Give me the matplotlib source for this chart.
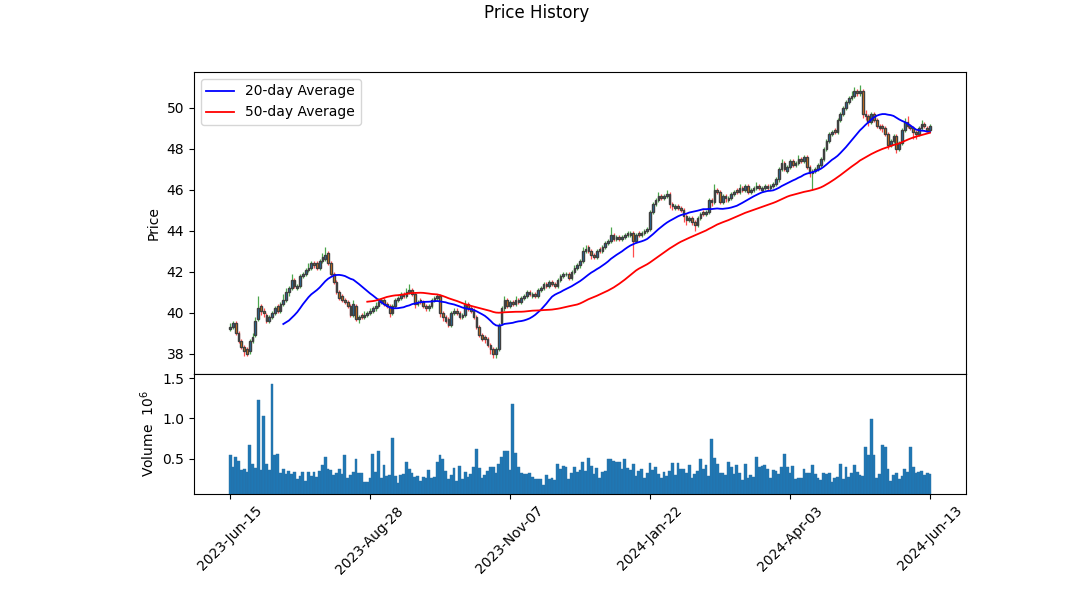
import numpy as np
import pandas as pd
import matplotlib
matplotlib.use('Agg')
import matplotlib.pyplot as plt

# daily OHLC, one value per trading day
opens = [
    39.2, 39.3, 39.5, 39.0, 38.6, 38.3, 38.2, 38.1, 38.6, 38.9,
    39.7, 40.3, 40.1, 39.9, 39.6, 39.8, 40.0, 40.3, 40.1, 40.4,
    40.6, 41.0, 41.2, 41.6, 41.2, 41.3, 41.8, 41.9, 42.1, 42.2,
    42.4, 42.4, 42.2, 42.5, 42.6, 42.9, 42.4, 41.9, 41.5, 41.0,
    40.8, 40.6, 40.5, 40.3, 39.9, 40.3, 39.7, 39.9, 39.8, 39.9,
    40.0, 40.1, 40.2, 40.3, 40.5, 40.6, 40.4, 40.3, 40.0, 40.3,
    40.6, 40.7, 40.9, 40.8, 41.0, 41.1, 40.9, 40.4, 40.6, 40.5,
    40.3, 40.2, 40.3, 40.6, 40.7, 40.8, 40.0, 39.8, 39.7, 39.4,
    40.0, 40.1, 40.0, 39.8, 39.9, 40.4, 40.2, 40.1, 39.8, 39.3,
    38.9, 38.8, 38.7, 38.4, 38.2, 38.0, 38.2, 39.5, 40.2, 40.6,
    40.3, 40.5, 40.4, 40.6, 40.5, 40.7, 40.8, 41.0, 40.8, 40.9,
    40.8, 41.1, 41.2, 41.4, 41.3, 41.5, 41.4, 41.3, 41.6, 41.8,
    41.9, 41.9, 41.7, 42.0, 42.2, 42.3, 42.5, 43.0, 43.2, 43.0,
    42.8, 42.7, 43.1, 43.0, 43.2, 43.4, 43.5, 43.8, 43.6, 43.7,
    43.6, 43.7, 43.8, 43.8, 43.9, 43.5, 43.9, 43.8, 43.9, 44.0,
    44.1, 44.9, 45.3, 45.5, 45.7, 45.6, 45.7, 45.8, 45.3, 45.1,
    45.2, 45.1, 45.0, 44.7, 44.5, 44.6, 44.4, 44.3, 44.6, 44.9,
    44.8, 44.9, 45.5, 45.4, 46.0, 45.9, 45.4, 45.7, 45.5, 45.6,
    45.8, 46.0, 45.9, 46.1, 46.0, 46.2, 45.9, 46.0, 46.1, 46.2,
    46.0, 46.1, 46.2, 46.1, 46.2, 46.3, 46.5, 47.0, 47.3, 46.9,
    47.1, 47.4, 47.2, 47.3, 47.5, 47.4, 47.6, 47.1, 46.8, 46.9,
    47.0, 47.2, 47.5, 48.0, 48.4, 48.7, 48.9, 48.8, 49.4, 49.7,
    50.0, 50.3, 50.5, 50.6, 50.8, 50.7, 50.8, 49.7, 49.6, 49.3,
    49.7, 49.4, 49.1, 49.1, 49.0, 48.7, 48.2, 48.4, 48.6, 48.0,
    48.3, 48.9, 49.3, 49.1, 49.0, 48.8, 48.7, 49.0, 49.2, 49.0,
    48.9]

closes = [
    39.3, 39.5, 39.0, 38.6, 38.3, 38.1, 38.0, 38.6, 38.8, 39.6,
    40.2, 40.1, 40.0, 39.6, 39.8, 40.0, 40.2, 40.1, 40.4, 40.6,
    41.0, 41.2, 41.6, 41.3, 41.3, 41.8, 41.9, 42.1, 42.2, 42.4,
    42.3, 42.2, 42.5, 42.7, 42.8, 42.4, 41.9, 41.5, 41.0, 40.7,
    40.6, 40.5, 40.3, 39.9, 40.4, 39.7, 39.8, 39.8, 39.9, 40.0,
    40.1, 40.2, 40.3, 40.5, 40.6, 40.4, 40.3, 40.0, 40.3, 40.6,
    40.7, 40.9, 40.8, 41.0, 41.1, 40.9, 40.4, 40.5, 40.5, 40.3,
    40.2, 40.3, 40.6, 40.7, 40.8, 40.0, 39.8, 39.6, 39.4, 40.0,
    40.1, 40.0, 39.8, 39.9, 40.4, 40.2, 40.1, 39.8, 39.3, 38.9,
    38.7, 38.7, 38.4, 38.2, 38.0, 38.2, 39.4, 40.2, 40.6, 40.3,
    40.5, 40.4, 40.6, 40.5, 40.7, 40.8, 41.0, 40.9, 40.9, 40.8,
    41.1, 41.2, 41.4, 41.3, 41.5, 41.4, 41.3, 41.6, 41.8, 41.9,
    41.9, 41.7, 42.0, 42.2, 42.3, 42.5, 43.0, 43.1, 43.0, 42.8,
    42.7, 43.0, 43.0, 43.2, 43.4, 43.5, 43.8, 43.6, 43.7, 43.6,
    43.7, 43.8, 43.9, 43.9, 43.5, 43.8, 43.8, 43.9, 44.0, 44.1,
    44.9, 45.3, 45.5, 45.7, 45.6, 45.7, 45.8, 45.3, 45.2, 45.2,
    45.1, 45.0, 44.7, 44.5, 44.6, 44.4, 44.3, 44.6, 44.8, 44.8,
    44.9, 45.5, 45.4, 46.0, 45.9, 45.4, 45.7, 45.6, 45.6, 45.8,
    45.9, 45.9, 46.1, 46.0, 46.2, 45.9, 46.0, 46.1, 46.2, 46.1,
    46.1, 46.2, 46.1, 46.2, 46.3, 46.5, 47.0, 47.3, 47.0, 47.1,
    47.4, 47.2, 47.3, 47.5, 47.4, 47.6, 47.1, 46.8, 46.9, 47.0,
    47.2, 47.5, 48.0, 48.4, 48.7, 48.8, 48.8, 49.4, 49.7, 50.0,
    50.3, 50.5, 50.6, 50.8, 50.7, 50.8, 49.7, 49.6, 49.3, 49.7,
    49.4, 49.1, 49.0, 49.0, 48.7, 48.2, 48.4, 48.6, 48.0, 48.3,
    48.9, 49.3, 49.1, 49.0, 48.8, 48.7, 49.0, 49.2, 49.1, 48.9,
    49.1]

highs = [
    39.5, 39.6, 39.6, 39.1, 38.7, 38.4, 38.3, 38.7, 39.0, 39.8,
    40.8, 40.4, 40.2, 40.0, 39.9, 40.1, 40.3, 40.4, 40.5, 40.9,
    41.2, 41.3, 41.9, 41.7, 41.4, 41.9, 42.0, 42.2, 42.4, 42.5,
    42.5, 42.5, 42.6, 42.9, 43.2, 43.0, 42.5, 42.0, 41.6, 41.1,
    40.9, 40.7, 40.6, 40.4, 40.6, 40.4, 39.9, 40.0, 40.1, 40.1,
    40.2, 40.3, 40.5, 40.7, 40.7, 40.7, 40.5, 40.4, 40.4, 40.7,
    40.8, 41.0, 41.0, 41.2, 41.4, 41.2, 41.0, 40.6, 40.7, 40.6,
    40.4, 40.4, 40.7, 40.8, 40.9, 40.9, 40.1, 39.9, 39.8, 40.1,
    40.2, 40.2, 40.1, 40.0, 40.6, 40.5, 40.3, 40.2, 39.9, 39.4,
    39.0, 38.9, 38.8, 38.5, 38.3, 38.3, 39.5, 40.3, 40.8, 40.7,
    40.6, 40.6, 40.8, 40.7, 40.8, 40.9, 41.1, 41.1, 41.0, 41.0,
    41.2, 41.3, 41.5, 41.5, 41.6, 41.6, 41.5, 41.7, 41.9, 42.0,
    42.0, 42.0, 42.1, 42.3, 42.4, 42.6, 43.2, 43.3, 43.3, 43.1,
    42.9, 43.1, 43.2, 43.3, 43.5, 43.6, 44.2, 43.9, 43.8, 43.8,
    43.8, 43.9, 44.0, 44.0, 44.0, 43.9, 44.0, 44.0, 44.1, 44.2,
    45.0, 45.4, 45.6, 45.9, 45.8, 45.8, 46.0, 45.9, 45.4, 45.3,
    45.3, 45.2, 45.1, 44.8, 44.7, 44.7, 44.5, 44.7, 44.9, 45.0,
    45.0, 45.6, 45.6, 46.3, 46.1, 46.0, 45.8, 45.8, 45.7, 45.9,
    46.0, 46.1, 46.3, 46.2, 46.3, 46.3, 46.1, 46.2, 46.4, 46.3,
    46.2, 46.3, 46.3, 46.3, 46.4, 46.6, 47.1, 47.5, 47.4, 47.2,
    47.5, 47.5, 47.4, 47.7, 47.6, 47.7, 47.7, 47.2, 47.0, 47.1,
    47.3, 47.6, 48.1, 48.5, 48.8, 48.9, 49.0, 49.5, 49.8, 50.1,
    50.4, 50.6, 50.8, 51.0, 50.9, 51.1, 50.9, 49.9, 49.7, 49.8,
    49.8, 49.5, 49.2, 49.2, 49.1, 48.8, 48.5, 48.7, 48.7, 48.4,
    49.0, 49.5, 49.6, 49.2, 49.1, 48.9, 49.1, 49.4, 49.3, 49.1,
    49.2]

lows = [
    39.1, 39.2, 38.9, 38.5, 38.2, 37.9, 37.9, 38.0, 38.5, 38.8,
    39.6, 39.9, 39.8, 39.5, 39.5, 39.7, 39.9, 40.0, 40.0, 40.3,
    40.5, 40.8, 41.1, 41.2, 41.1, 41.2, 41.7, 41.8, 42.0, 42.1,
    42.2, 42.1, 42.1, 42.4, 42.5, 42.3, 41.8, 41.4, 40.9, 40.6,
    40.5, 40.4, 40.2, 39.8, 39.8, 39.6, 39.5, 39.7, 39.7, 39.8,
    39.9, 40.0, 40.1, 40.2, 40.4, 40.3, 40.2, 39.8, 39.9, 40.2,
    40.5, 40.6, 40.7, 40.7, 40.9, 40.8, 40.2, 40.3, 40.4, 40.2,
    40.1, 40.1, 40.2, 40.5, 40.6, 39.8, 39.6, 39.5, 39.3, 39.3,
    39.9, 39.9, 39.7, 39.7, 39.8, 40.1, 40.0, 39.7, 39.2, 38.8,
    38.6, 38.5, 38.3, 38.0, 37.8, 37.8, 38.1, 39.4, 40.1, 40.2,
    40.2, 40.3, 40.3, 40.4, 40.4, 40.6, 40.7, 40.8, 40.7, 40.7,
    40.7, 41.0, 41.1, 41.2, 41.2, 41.3, 41.2, 41.2, 41.5, 41.7,
    41.8, 41.6, 41.6, 41.9, 42.1, 42.2, 42.4, 42.9, 42.9, 42.6,
    42.6, 42.6, 42.9, 42.9, 43.1, 43.3, 43.4, 43.5, 43.5, 43.5,
    43.5, 43.6, 43.7, 43.7, 42.7, 43.4, 43.7, 43.7, 43.8, 43.9,
    44.0, 44.8, 45.2, 45.4, 45.5, 45.5, 45.6, 45.1, 45.0, 45.0,
    45.0, 44.9, 44.4, 44.3, 44.4, 44.3, 44.0, 44.2, 44.5, 44.7,
    44.7, 44.8, 45.2, 45.3, 45.8, 45.3, 45.3, 45.4, 45.4, 45.5,
    45.7, 45.8, 45.8, 45.9, 45.9, 45.8, 45.8, 45.9, 46.0, 46.0,
    45.9, 46.0, 46.0, 46.0, 46.1, 46.2, 46.4, 46.9, 46.9, 46.8,
    47.0, 47.1, 47.1, 47.2, 47.3, 47.3, 47.0, 46.6, 46.0, 46.8,
    46.9, 47.1, 47.4, 47.9, 48.3, 48.6, 48.7, 48.7, 49.3, 49.6,
    49.9, 50.2, 50.4, 50.5, 50.6, 50.6, 49.5, 49.4, 49.1, 49.2,
    49.3, 49.0, 48.9, 48.8, 48.6, 48.0, 48.1, 48.3, 47.8, 47.9,
    48.2, 48.8, 49.0, 48.9, 48.5, 48.5, 48.6, 48.9, 49.0, 48.8,
    48.8]

# volume in millions
volumes = [
    0.55, 0.40, 0.525, 0.475, 0.36, 0.375, 0.34, 0.675, 0.44, 0.39,
    1.225, 0.36, 1.025, 0.44, 0.36, 1.425, 0.55, 0.56, 0.325, 0.375,
    0.31, 0.35, 0.31, 0.34, 0.25, 0.29, 0.34, 0.225, 0.34, 0.29,
    0.34, 0.275, 0.35, 0.425, 0.525, 0.375, 0.36, 0.30, 0.325, 0.375,
    0.31, 0.55, 0.26, 0.30, 0.34, 0.49, 0.325, 0.325, 0.21, 0.21,
    0.26, 0.56, 0.34, 0.59, 0.26, 0.425, 0.29, 0.30, 0.76, 0.29,
    0.20, 0.30, 0.31, 0.46, 0.375, 0.325, 0.275, 0.29, 0.225, 0.275,
    0.26, 0.36, 0.26, 0.275, 0.46, 0.54, 0.50, 0.35, 0.25, 0.30,
    0.39, 0.225, 0.41, 0.25, 0.34, 0.275, 0.31, 0.40, 0.625, 0.39,
    0.26, 0.30, 0.35, 0.40, 0.40, 0.325, 0.44, 0.525, 0.60, 0.60,
    0.36, 1.175, 0.575, 0.40, 0.325, 0.31, 0.31, 0.325, 0.275, 0.25,
    0.25, 0.25, 0.175, 0.30, 0.25, 0.26, 0.24, 0.44, 0.375, 0.41,
    0.40, 0.25, 0.325, 0.40, 0.34, 0.36, 0.46, 0.35, 0.51, 0.41,
    0.31, 0.39, 0.26, 0.34, 0.35, 0.49, 0.49, 0.475, 0.46, 0.46,
    0.375, 0.50, 0.39, 0.36, 0.44, 0.29, 0.35, 0.375, 0.26, 0.325,
    0.45, 0.36, 0.40, 0.31, 0.26, 0.34, 0.29, 0.35, 0.45, 0.30,
    0.45, 0.375, 0.375, 0.325, 0.425, 0.26, 0.31, 0.35, 0.49, 0.375,
    0.425, 0.29, 0.75, 0.51, 0.44, 0.325, 0.325, 0.30, 0.46, 0.40,
    0.31, 0.425, 0.325, 0.24, 0.44, 0.26, 0.30, 0.275, 0.525, 0.40,
    0.41, 0.425, 0.375, 0.26, 0.36, 0.35, 0.31, 0.40, 0.56, 0.40,
    0.325, 0.41, 0.25, 0.26, 0.26, 0.375, 0.325, 0.325, 0.425, 0.31,
    0.26, 0.24, 0.325, 0.31, 0.325, 0.21, 0.26, 0.275, 0.44, 0.25,
    0.40, 0.275, 0.325, 0.425, 0.34, 0.30, 0.29, 0.65, 0.54, 0.99,
    0.54, 0.26, 0.31, 0.675, 0.64, 0.375, 0.225, 0.30, 0.325, 0.25,
    0.29, 0.375, 0.34, 0.65, 0.40, 0.325, 0.34, 0.35, 0.30, 0.325,
    0.31]

tick_pos = [0, 50, 100, 150, 200, 250]
tick_labels = ['2023-Jun-15', '2023-Aug-28', '2023-Nov-07',
               '2024-Jan-22', '2024-Apr-03', '2024-Jun-13']

o = np.array(opens)
c = np.array(closes)
h = np.array(highs)
l = np.array(lows)
v = np.array(volumes)
idx = np.arange(len(c))

up = c >= o
ma20 = pd.Series(c).rolling(20).mean()
ma50 = pd.Series(c).rolling(50).mean()

fig = plt.figure(figsize=(10.73, 6.03), dpi=100)
ax1 = fig.add_axes([0.1808, 0.3798, 0.7195, 0.5008])
ax2 = fig.add_axes([0.1808, 0.1808, 0.7195, 0.1990], sharex=ax1)

# wicks
ax1.vlines(idx, l, h, colors=np.where(up, 'green', 'red'), linewidth=0.9, alpha=0.7, zorder=1)
# bodies
ax1.bar(idx, c - o, bottom=o, width=0.6,
        color=np.where(up, 'tab:blue', 'tab:orange'),
        edgecolor='#404040', linewidth=1.0, zorder=2)

ax1.plot(idx, ma20, color='blue', linewidth=1.3, label='20-day Average', zorder=3)
ax1.plot(idx, ma50, color='red', linewidth=1.3, label='50-day Average', zorder=3)
ax1.set_ylabel('Price')
ax1.set_ylim(37.0, 51.75)
ax1.set_yticks([38, 40, 42, 44, 46, 48, 50])
ax1.legend(loc='upper left')
ax1.tick_params(labelbottom=False)

ax2.bar(idx, v, width=1.0, color='tab:blue', edgecolor='#2a6fa3', linewidth=0.3)
ax2.set_ylim(0.0625, 1.55)
ax2.set_yticks([0.5, 1.0, 1.5])
ax2.set_ylabel('Volume  $10^6$')
ax2.set_xlim(-12.9, 262.9)
ax2.set_xticks(tick_pos)
ax2.set_xticklabels(tick_labels, rotation=45)

fig.suptitle('Price History', y=0.993)
fig.savefig('out.png', dpi=100)
